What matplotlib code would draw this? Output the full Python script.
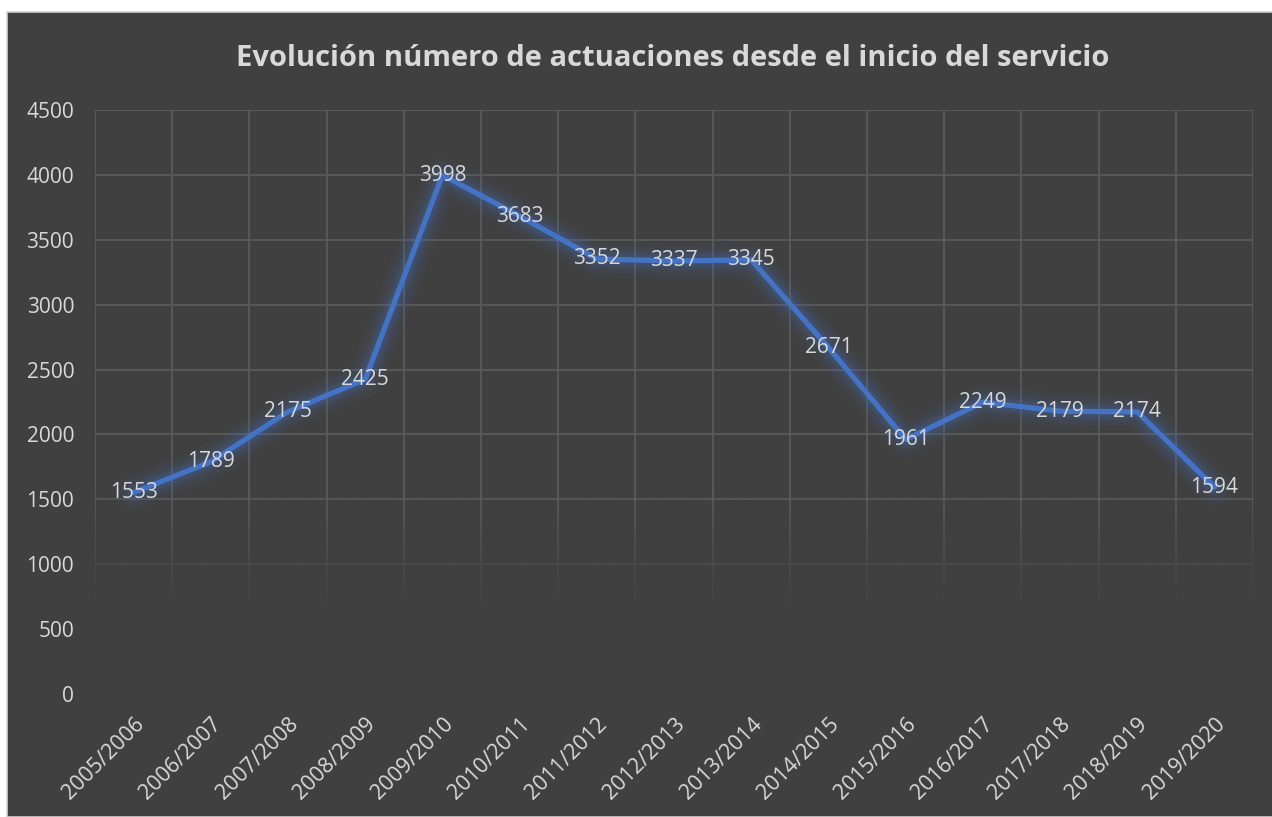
import numpy as np
import matplotlib.pyplot as plt
from matplotlib.patches import Rectangle

# datos del gráfico
cursos = ["2005/2006", "2006/2007", "2007/2008", "2008/2009", "2009/2010",
          "2010/2011", "2011/2012", "2012/2013", "2013/2014", "2014/2015",
          "2015/2016", "2016/2017", "2017/2018", "2018/2019", "2019/2020"]
actuaciones = [1553, 1789, 2175, 2425, 3998, 3683, 3352, 3337, 3345,
               2671, 1961, 2249, 2179, 2174, 1594]
yticks = [0, 500, 1000, 1500, 2000, 2500, 3000, 3500, 4000, 4500]

bg = "#404040"
grid_col = "#5a5a5a"
txt_col = "#d9d9d9"
line_col = "#4472C4"
W, H = 1272, 817

fig = plt.figure(figsize=(W / 100, H / 100), dpi=100, facecolor="white")
# fondo oscuro del área del gráfico
fig.patches.append(Rectangle((7 / W, 0), 1, (H - 12) / H, transform=fig.transFigure,
                             facecolor=bg, edgecolor="#d0d0d0", linewidth=1.2, zorder=-1))

ax = fig.add_axes([95 / W, (H - 694) / H, (1253 - 95) / W, (694 - 110) / H])
ax.set_zorder(2)
ax.set_facecolor(bg)
x = np.arange(len(cursos))
ax.set_xlim(-0.5, len(cursos) - 0.5)
ax.set_ylim(0, 4500)

# cuadrícula
for xb in np.arange(-0.5, len(cursos), 1):
    ax.axvline(xb, color=grid_col, lw=1.3, zorder=1)
for yv in yticks:
    ax.axhline(yv, color=grid_col, lw=1.3, zorder=1)

# degradado que difumina la cuadrícula hacia abajo
grad = np.zeros((400, 2, 4))
rgb = np.array([0x40, 0x40, 0x40]) / 255
yy = np.linspace(0, 4500, 400)
alpha = np.clip((1550 - yy) / 900, 0, 1)
grad[..., :3] = rgb
grad[..., 3] = alpha[:, None]
ax.imshow(grad, extent=(-0.5, len(cursos) - 0.5, 0, 4500), origin="lower",
          aspect="auto", zorder=1.5, interpolation="bilinear")

# resplandor de la línea
for lw, a in [(26, 0.05), (19, 0.07), (13, 0.10), (9, 0.14)]:
    ax.plot(x, actuaciones, color=line_col, lw=lw, alpha=a,
            solid_joinstyle="round", solid_capstyle="round", zorder=2)
ax.plot(x, actuaciones, color=line_col, lw=3.8, solid_joinstyle="round",
        solid_capstyle="round", zorder=3)

for xi, v in zip(x, actuaciones):
    ax.text(xi, v, str(v), ha="center", va="center", fontsize=15,
            color=txt_col, family="Open Sans", zorder=4)

for s in ax.spines.values():
    s.set_visible(False)
ax.set_yticks(yticks)
ax.set_yticklabels([str(t) for t in yticks], fontsize=15, color=txt_col, family="Open Sans")
ax.set_xticks(x)
ax.set_xticklabels(cursos, rotation=45, ha="right", rotation_mode="anchor",
                   fontsize=15.5, color=txt_col, family="Open Sans")
ax.tick_params(length=0, pad=14)
ax.tick_params(axis="y", pad=15)

fig.text(673 / W, 1 - 59 / H, "Evolución número de actuaciones desde el inicio del servicio",
         ha="center", va="center", fontsize=21, fontweight="bold", color=txt_col,
         family="Open Sans")

fig.savefig("out.png", dpi=100, facecolor=fig.get_facecolor())
